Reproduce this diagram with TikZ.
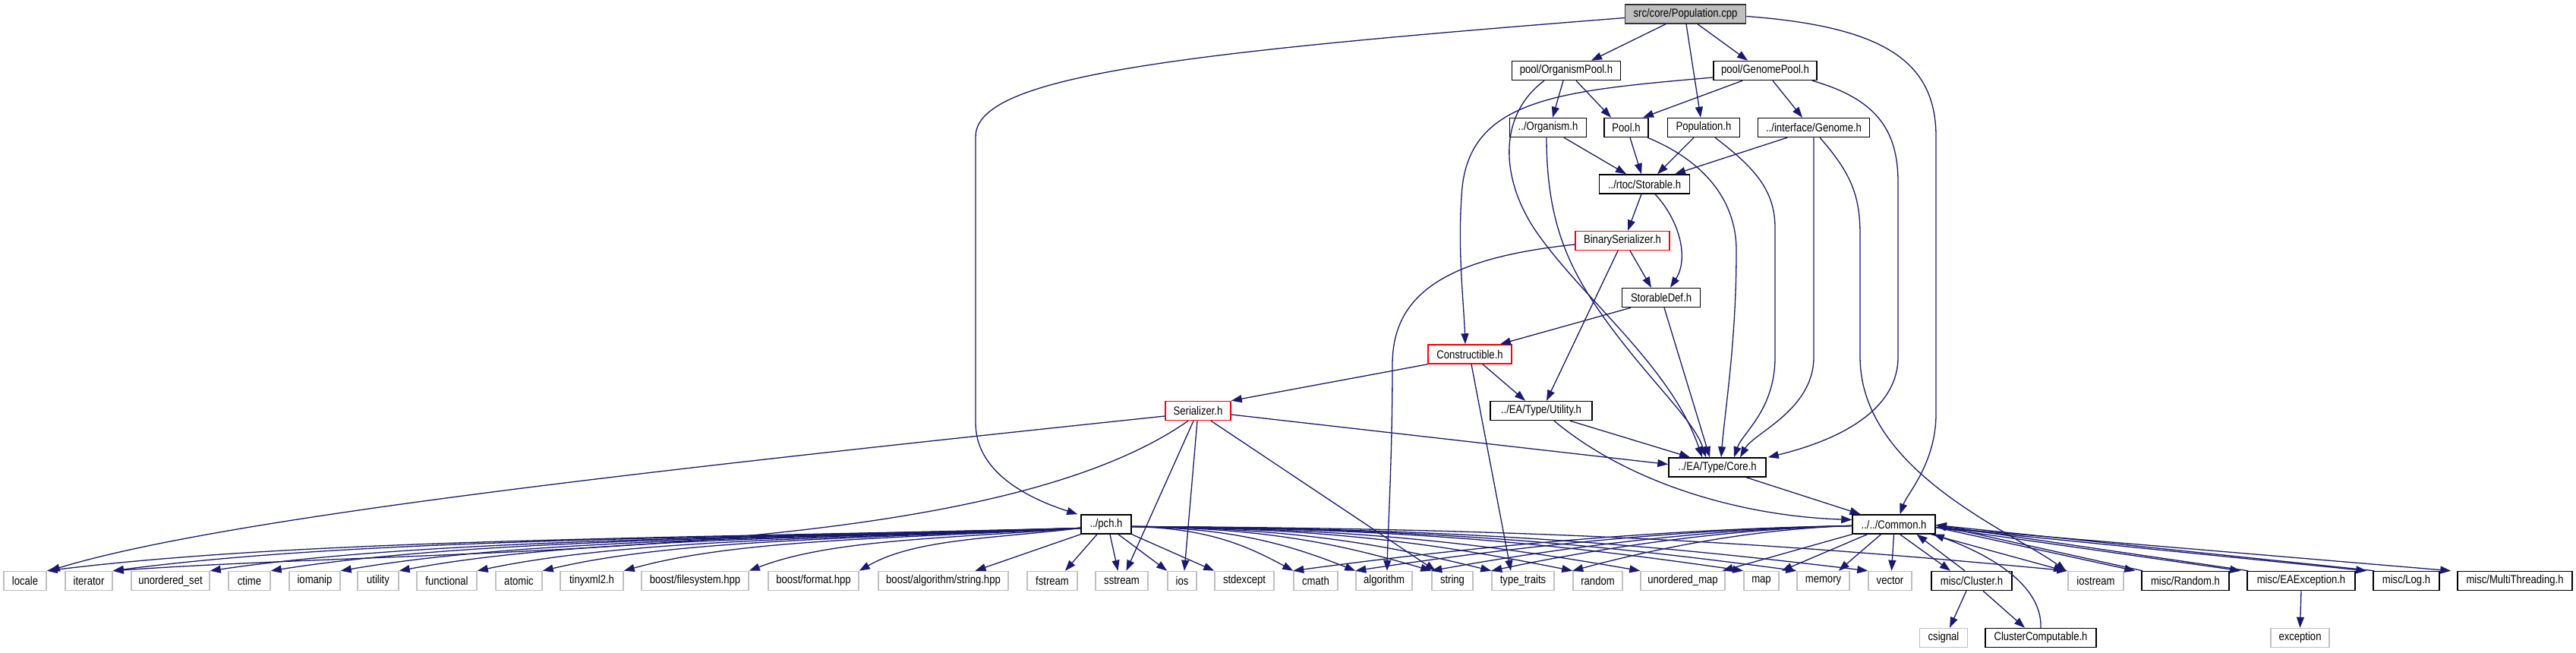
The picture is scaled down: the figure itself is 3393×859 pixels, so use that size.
\documentclass[tikz,border=0pt]{standalone}
\usepackage{fontspec}
\newfontfamily\doxfont{Liberation Sans}[FakeStretch=0.85]
\usetikzlibrary{arrows.meta}

\definecolor{edgeblue}{HTML}{191970}
\definecolor{grey75}{HTML}{BFBFBF}

\tikzset{
  box/.style={draw=black, fill=white, line width=1.5pt, minimum height=25, inner sep=0pt,
    font=\doxfont\fontsize{15.4}{17}\selectfont},
  sys/.style={box, draw=grey75},
  trunc/.style={box, draw=red},
  main/.style={box, fill=grey75, draw=black!80},
  dep/.style={draw=edgeblue, line width=1.3pt, -{Triangle[length=14pt,width=10pt]}},
}

\begin{document}
\begin{tikzpicture}[x=1pt, y=-1pt]
   \useasboundingbox (0,0) rectangle (3393,859);

   % Source file and its project headers
   \node[main, minimum width=159] (cpp) at (2220,18.5) {src/core/Population.cpp};
   \node[box, minimum width=143] (orgpool) at (2063,93) {pool/OrganismPool.h};
   \node[box, minimum width=136] (genpool) at (2325,93) {pool/GenomePool.h};
   \node[box, minimum width=101] (organism) at (2039,168) {../Organism.h};
   \node[box, minimum width=58] (pool) at (2142,168) {Pool.h};
   \node[box, minimum width=95] (populationh) at (2244,168) {Population.h};
   \node[box, minimum width=147] (genome) at (2389,168) {../interface/Genome.h};
   \node[box, minimum width=119] (storable) at (2166,242.5) {../rtoc/Storable.h};
   \node[trunc, minimum width=124] (binser) at (2137,317) {BinarySerializer.h};
   \node[box, minimum width=103] (storabledef) at (2188,392) {StorableDef.h};
   \node[trunc, minimum width=110] (constructible) at (1936,466.5) {Constructible.h};
   \node[trunc, minimum width=86] (serializer) at (1578,541) {Serializer.h};
   \node[box, minimum width=134] (typeutil) at (2030,541) {../EA/Type/Utility.h};
   \node[box, minimum width=128] (core) at (2262,615.5) {../EA/Type/Core.h};
   \node[box, minimum width=66] (pch) at (1457,690.5) {../pch.h};
   \node[box, minimum width=109] (common) at (2494.5,690.5) {../../Common.h};

   % System headers (bottom row)
   \foreach \name/\x/\w/\txt in {locale/33/56/locale, iterator/117/62/iterator,
       unorderedset/224.5/103/unordered\_set, ctime/328.5/55/ctime, iomanip/414.5/67/iomanip,
       utilityh/498/54/utility, functional/588.5/79/functional, atomic/683.5/61/atomic,
       tinyxml/779.5/83/tinyxml2.h, bfilesystem/915.5/141/{boost/filesystem.hpp},
       bformat/1071.5/119/{boost/format.hpp}, balgorithm/1242.5/171/{boost/algorithm/string.hpp},
       fstream/1386/66/fstream, sstream/1477.5/69/sstream, ios/1557/38/ios,
       stdexcept/1639/78/stdexcept, cmath/1733/58/cmath, algorithm/1823/74/algorithm,
       string/1913/54/string, typetraits/2006/82/type\_traits, random/2104.5/65/random,
       unorderedmap/2216.5/111/unordered\_map, map/2320/46/map, memory/2401.5/69/memory,
       vector/2489.5/57/vector, iostream/2760.5/73/iostream}
     \node[sys, minimum width=\w] (\name) at (\x,765) {\txt};

   % misc headers
   \node[box, minimum width=106] (cluster) at (2597,765) {misc/Cluster.h};
   \node[box, minimum width=115] (miscrandom) at (2878.5,765) {misc/Random.h};
   \node[box, minimum width=142] (eaexception) at (3031,765) {misc/EAException.h};
   \node[box, minimum width=87] (log) at (3169.5,765) {misc/Log.h};
   \node[box, minimum width=151] (multithreading) at (3312.5,765) {misc/MultiThreading.h};
   \node[sys, minimum width=63] (csignal) at (2560,840) {csignal};
   \node[box, minimum width=146] (clustercomp) at (2688,840) {ClusterComputable.h};
   \node[sys, minimum width=77] (exception) at (3029.5,840) {exception};

   % Population.cpp
   \draw[dep] ([yshift=-5]cpp.west) .. controls (1550,70) and (1285,100) .. (1285,180)
      -- (1285,557) .. controls (1285,620) and (1350,655) .. ([xshift=-4]pch.north west);
   \draw[dep] ([xshift=-26]cpp.south) -- ([xshift=33]orgpool.north);
   \draw[dep] ([xshift=1]cpp.south) -- ([xshift=-4]populationh.north);
   \draw[dep] ([xshift=16]cpp.south) -- ([xshift=-23]genpool.north);
   \draw[dep] ([yshift=-3]cpp.east) .. controls (2480,35) and (2550,80) .. (2550,180)
      -- (2550,545) .. controls (2550,610) and (2512,650) .. ([xshift=8]common.north);

   % pool headers
   \draw[dep] ([xshift=-4]orgpool.south) -- ([xshift=6]organism.north);
   \draw[dep] ([xshift=13]orgpool.south) -- ([xshift=-20]pool.north);
   \draw[dep] ([xshift=-29]orgpool.south) .. controls (1975,150) and (1975,230) .. (2020,300)
      .. controls (2080,390) and (2200,480) .. ([xshift=-20]core.north);
   \draw[dep] ([yshift=-9]genpool.west) .. controls (2050,120) and (1930,130) .. (1925,260)
      .. controls (1920,330) and (1928,400) .. ([xshift=-6]constructible.north);
   \draw[dep] ([xshift=-30]genpool.south) -- ([xshift=22]pool.north);
   \draw[dep] ([xshift=10]genpool.south) -- ([xshift=-15]genome.north);
   \draw[dep] ([xshift=62]genpool.south) .. controls (2470,130) and (2500,170) .. (2500,240)
      -- (2500,470) .. controls (2500,550) and (2400,585) .. ([xshift=2]core.north east);

   % second row
   \draw[dep] ([xshift=21]organism.south) -- ([xshift=-24]storable.north);
   \draw[dep] ([xshift=-2]organism.south) .. controls (2037,280) and (2060,340) .. (2100,400)
      .. controls (2160,490) and (2230,550) .. ([xshift=-15]core.north);
   \draw[dep] ([xshift=5]pool.south) -- ([xshift=-4]storable.north);
   \draw[dep] ([xshift=28]pool.south) .. controls (2240,210) and (2287,260) .. (2287,330)
      .. controls (2287,450) and (2272,540) .. ([xshift=5]core.north);
   \draw[dep] ([xshift=-13]populationh.south) -- ([xshift=17]storable.north);
   \draw[dep] ([xshift=15]populationh.south) .. controls (2310,220) and (2338,250) .. (2338,300)
      -- (2338,470) .. controls (2338,540) and (2295,570) .. ([xshift=22]core.north);
   \draw[dep] ([xshift=-35]genome.south) -- ([xshift=40]storable.north);
   \draw[dep] (genome.south) -- (2389,470) .. controls (2389,540) and (2310,570) .. ([xshift=30]core.north);
   \draw[dep] ([xshift=8]genome.south) .. controls (2440,230) and (2450,260) .. (2450,310)
      -- (2450,470) .. controls (2450,620) and (2650,700) .. ([xshift=-2]iostream.north west);

   % Storable and serializers
   \draw[dep] ([xshift=-4]storable.south) -- ([xshift=7]binser.north);
   \draw[dep] ([xshift=14]storable.south) .. controls (2212,290) and (2225,340) .. ([xshift=12]storabledef.north);
   \draw[dep] ([xshift=10]binser.south) -- ([xshift=-13]storabledef.north);
   \draw[dep] ([xshift=-6]binser.south) -- ([xshift=7]typeutil.north);
   \draw[dep] ([yshift=-5]binser.west) .. controls (1900,340) and (1834,390) .. (1834,480)
      .. controls (1834,600) and (1828,700) .. ([xshift=4]algorithm.north);
   \draw[dep] ([xshift=-40]storabledef.south) -- ([xshift=40]constructible.north);
   \draw[dep] ([xshift=4]storabledef.south) -- ([xshift=-10]core.north);
   \draw[dep] (constructible.south west) -- (serializer.north east);
   \draw[dep] ([xshift=17]constructible.south) -- ([xshift=-21]typeutil.north);
   \draw[dep] ([xshift=2]constructible.south) -- ([xshift=-16]typetraits.north);

   % Serializer.h
   \draw[dep] ([yshift=-7]serializer.west) .. controls (900,615) and (300,680) .. ([xshift=3]locale.north east);
   \draw[dep] ([xshift=-13]serializer.south) .. controls (1300,740) and (600,720) .. (iterator.north east);
   \draw[dep] ([xshift=-6]serializer.south) -- ([xshift=6]sstream.north);
   \draw[dep] ([xshift=-1]serializer.south) -- ([xshift=3]ios.north);
   \draw[dep] ([xshift=17]serializer.south) -- ([xshift=-22]string.north);
   \draw[dep] ([yshift=-5]serializer.east) -- ([yshift=4]core.west);

   % Utility.h and Core.h
   \draw[dep] ([xshift=38]typeutil.south) -- ([xshift=-36]core.north);
   \draw[dep] ([xshift=17]typeutil.south) .. controls (2150,640) and (2300,680) .. ([yshift=6]common.west);
   \draw[dep] ([xshift=38]core.south) -- ([xshift=-44]common.north);

   % pch.h
   \foreach \leaf/\d in {locale/1363, iterator/1276, unorderedset/1148, ctime/1068, iomanip/976,
       utilityh/899, functional/796, atomic/710, tinyxml/603, bfilesystem/438, bformat/293}
     \draw[dep] ([yshift=-5]pch.west) .. controls +({-0.4*\d},14) and +({0.25*\d},-42) .. (\leaf.north east);
   \draw[dep] (pch.south west) -- ([xshift=42]balgorithm.north);
   \draw[dep] ([xshift=-12]pch.south) -- ([xshift=17]fstream.north);
   \draw[dep] ([xshift=5]pch.south) -- ([xshift=-5]sstream.north);
   \draw[dep] ([xshift=16]pch.south) -- (ios.north west);
   \draw[dep] (pch.south east) -- (stdexcept.north west);
   \foreach \leaf/\d in {cmath/214, algorithm/296, string/396, typetraits/475, random/582,
       unorderedmap/671, map/807, memory/877, vector/971, iostream/1234}
     \draw[dep] ([yshift=-3]pch.east) .. controls +({0.45*\d},2) and +({-0.3*\d},-35) .. (\leaf.north west);

   % Common.h
   \foreach \leaf/\d in {cmath/736, algorithm/654, string/554, typetraits/475, random/368}
     \draw[dep] ([yshift=-2]common.west) .. controls +({-0.35*\d},4) and +({0.3*\d},-30) .. (\leaf.north west);
   \draw[dep] (common.south west) -- ([xshift=-4]unorderedmap.north east);
   \draw[dep] ([xshift=-35]common.south) -- ([xshift=3]map.north east);
   \draw[dep] ([xshift=-17]common.south) -- ([xshift=-15]memory.north east);
   \draw[dep] (common.south) -- ([xshift=2]vector.north);
   \draw[dep] ([xshift=8]common.south) -- ([xshift=-28]cluster.north);
   \draw[dep] ([xshift=-9]cluster.north) -- ([xshift=30]common.south);
   \draw[dep] ([xshift=-6]common.south east) -- ([xshift=-4]iostream.north west);
   \foreach \leaf in {miscrandom, eaexception, log}{
     \draw[dep] ([yshift=-4]common.east) -- ([xshift=-8]\leaf.north west);
     \draw[dep] ([xshift=2]\leaf.north west) -- ([yshift=-1]common.east);
   }
   \draw[dep] ([yshift=-4]common.east) -- ([xshift=-8]multithreading.north west);

   % misc/Cluster.h and misc/EAException.h
   \draw[dep] ([xshift=-7]cluster.south) -- ([xshift=8]csignal.north);
   \draw[dep] ([xshift=15]cluster.south) -- ([xshift=-21]clustercomp.north);
   \draw[dep] (clustercomp.north) .. controls (2690,770) and (2620,730) .. ([xshift=-3]common.south east);
   \draw[dep] (eaexception.south) -- (exception.north);

\end{tikzpicture}
\end{document}
